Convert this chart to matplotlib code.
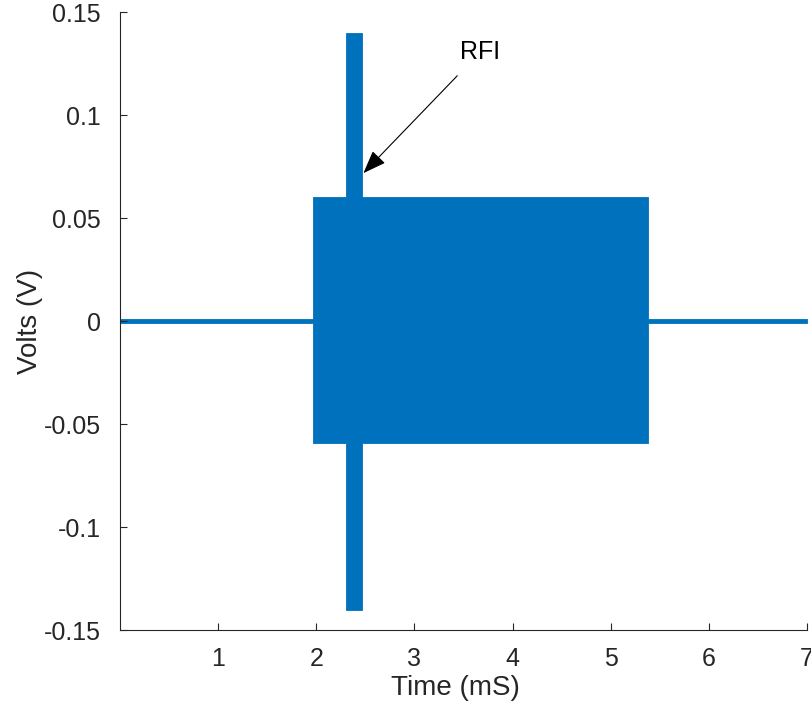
import matplotlib
matplotlib.use("Agg")
import matplotlib.pyplot as plt

plt.rcParams['font.family'] = ['Liberation Sans', 'DejaVu Sans']

env_time = [0.0, 1.97, 1.97, 2.30, 2.30, 2.47, 2.47, 5.38, 5.38, 7.0]
env_upper = [0.0009, 0.0009, 0.060, 0.060, 0.140, 0.140, 0.060, 0.060, 0.0009, 0.0009]
env_lower = [-0.0009, -0.0009, -0.059, -0.059, -0.140, -0.140, -0.059, -0.059, -0.0009, -0.0009]

x_ticks = [1, 2, 3, 4, 5, 6, 7]
y_ticks = [-0.15, -0.1, -0.05, 0, 0.05, 0.1, 0.15]
y_tick_labels = ['-0.15', '-0.1', '-0.05', '0', '0.05', '0.1', '0.15']

rfi_text_xy = (3.67, 0.1306)
rfi_tip_xy = (2.48, 0.0718)

fig = plt.figure(figsize=(8.12, 7.08), dpi=100)
ax = fig.add_axes([0.1478, 0.110, 0.846, 0.873])

color = '#0072BD'
ax.fill_between(env_time, env_lower, env_upper, color=color, linewidth=0.6,
                edgecolor=color)

ax.set_xlim(0, 7)
ax.set_ylim(-0.15, 0.15)
ax.set_xticks(x_ticks)
ax.set_yticks(y_ticks)
ax.set_yticklabels(y_tick_labels)

for s in ['top', 'right']:
    ax.spines[s].set_visible(False)
for s in ['left', 'bottom']:
    ax.spines[s].set_color('#262626')
    ax.spines[s].set_linewidth(0.8)
ax.tick_params(direction='in', length=5, width=0.8, colors='#262626',
               labelsize=18, labelcolor='#262626')
ax.tick_params(axis='y', pad=14)
ax.tick_params(axis='x', pad=12)

ax.set_xlabel('Time (mS)', fontsize=20, color='#262626')
ax.set_ylabel('Volts (V)', fontsize=20, color='#262626', labelpad=0)
ax.xaxis.set_label_coords(0.488, -0.072)

ax.annotate('RFI', xy=rfi_tip_xy, xytext=rfi_text_xy, fontsize=18,
            color='black', ha='center', va='center',
            arrowprops=dict(arrowstyle='-|>,head_length=0.8,head_width=0.3',
                            color='black', lw=0.8, shrinkA=9, shrinkB=0))

fig.savefig('out.png', dpi=100)
